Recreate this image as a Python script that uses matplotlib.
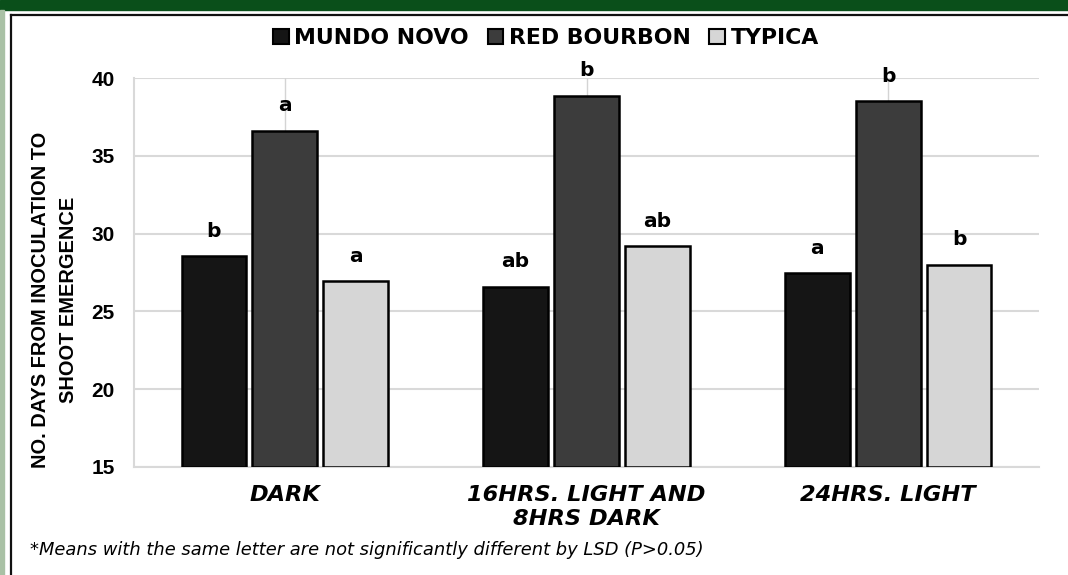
import numpy as np
import matplotlib.pyplot as plt
from matplotlib.patches import Rectangle, Patch
from matplotlib.lines import Line2D

plt.rcParams['font.family'] = ['Liberation Sans', 'DejaVu Sans']

conditions = ['DARK', '16HRS. LIGHT AND\n8HRS DARK', '24HRS. LIGHT']
varieties = ['MUNDO NOVO', 'RED BOURBON', 'TYPICA']
mundo_novo = [28.55, 26.6, 27.45]
red_bourbon = [36.6, 38.85, 38.5]
typica = [26.95, 29.2, 28.0]
rb_err_up = [4.5, 2.5, 2.5]
letters_mn = ['b', 'ab', 'a']
letters_rb = ['a', 'b', 'b']
letters_ty = ['a', 'ab', 'b']
colors = ['#151515', '#3c3c3c', '#d6d6d6']

W, H = 1068, 575
fig = plt.figure(figsize=(W/100, H/100), dpi=100)

# page decoration (green band, left strip, black frame)
fig.patches.append(Rectangle((0, 1-10/H), 1, 10/H, transform=fig.transFigure, color='#0a4f1a', zorder=0))
fig.patches.append(Rectangle((0, 0), 3.5/W, 1-10/H, transform=fig.transFigure, color='#a9c1a5', zorder=0))
fig.add_artist(Line2D([10.5/W, 10.5/W], [0, 1-15/H], transform=fig.transFigure, color='#111111', lw=1.6))
fig.add_artist(Line2D([10.5/W, 1], [1-15/H, 1-15/H], transform=fig.transFigure, color='#111111', lw=1.6))

ax = fig.add_axes([134/W, 1-467/H, (1039-134)/W, (467-78)/H])

x = np.arange(len(conditions))
bw = 0.215
step = 0.235
series = [mundo_novo, red_bourbon, typica]
labs = [letters_mn, letters_rb, letters_ty]
for i, (vals, c, lt) in enumerate(zip(series, colors, labs)):
    xs = x + (i-1)*step
    ax.bar(xs, np.array(vals)-15, bw, bottom=15, color=c, edgecolor='black', linewidth=1.8, zorder=3)
    if i == 1:
        ax.errorbar(xs, vals, yerr=[np.zeros(3), rb_err_up], fmt='none', ecolor='#d4d4d4',
                    elinewidth=1.0, capsize=0, zorder=2)
    for xx, v, t in zip(xs, vals, lt):
        ax.annotate(t, (xx, v), xytext=(0, 18), textcoords='offset points', ha='center', va='center',
                    fontsize=14.5, fontweight='bold', family='DejaVu Sans', zorder=4)

ax.set_xlim(-0.5, 2.5)
ax.set_ylim(15, 40)
ax.set_yticks(range(15, 41, 5))
ax.set_yticklabels([str(v) for v in range(15, 41, 5)], fontsize=15, fontweight='bold')
ax.tick_params(axis='y', length=0, pad=14)
ax.tick_params(axis='x', length=0, pad=13)
ax.set_xticks(x)
ax.set_xticklabels(conditions, fontsize=16.2, fontweight='bold', fontstyle='oblique',
                   family='DejaVu Sans', linespacing=1.25)
ax.yaxis.grid(True, color='#d9d9d9', lw=1.5, zorder=0)
ax.set_axisbelow(True)
for s in ['top', 'right']:
    ax.spines[s].set_visible(False)
for s in ['left', 'bottom']:
    ax.spines[s].set_color('#d9d9d9')
    ax.spines[s].set_linewidth(1.5)

fig.text(55/W, 1-300/H, 'NO. DAYS FROM INOCULATION TO\nSHOOT EMERGENCE', rotation=90, ha='center', va='center',
         fontsize=14.4, fontweight='bold', family='Liberation Sans', linespacing=1.6)

handles = [Patch(facecolor=c, edgecolor='black', linewidth=1.5) for c in colors]
fig.legend(handles, varieties, loc='center', bbox_to_anchor=(546/W, 1-38/H), ncol=3, frameon=False,
           prop={'size': 15.8, 'weight': 'bold', 'family': 'DejaVu Sans'}, handlelength=0.72,
           handleheight=0.68, handletextpad=0.25, columnspacing=0.85)

fig.text(30/W, 1-550/H, '*Means with the same letter are not significantly different by LSD (P>0.05)',
         fontsize=12.9, fontstyle='oblique', family='DejaVu Sans', ha='left', va='center')

fig.savefig('out.png', dpi=100)
